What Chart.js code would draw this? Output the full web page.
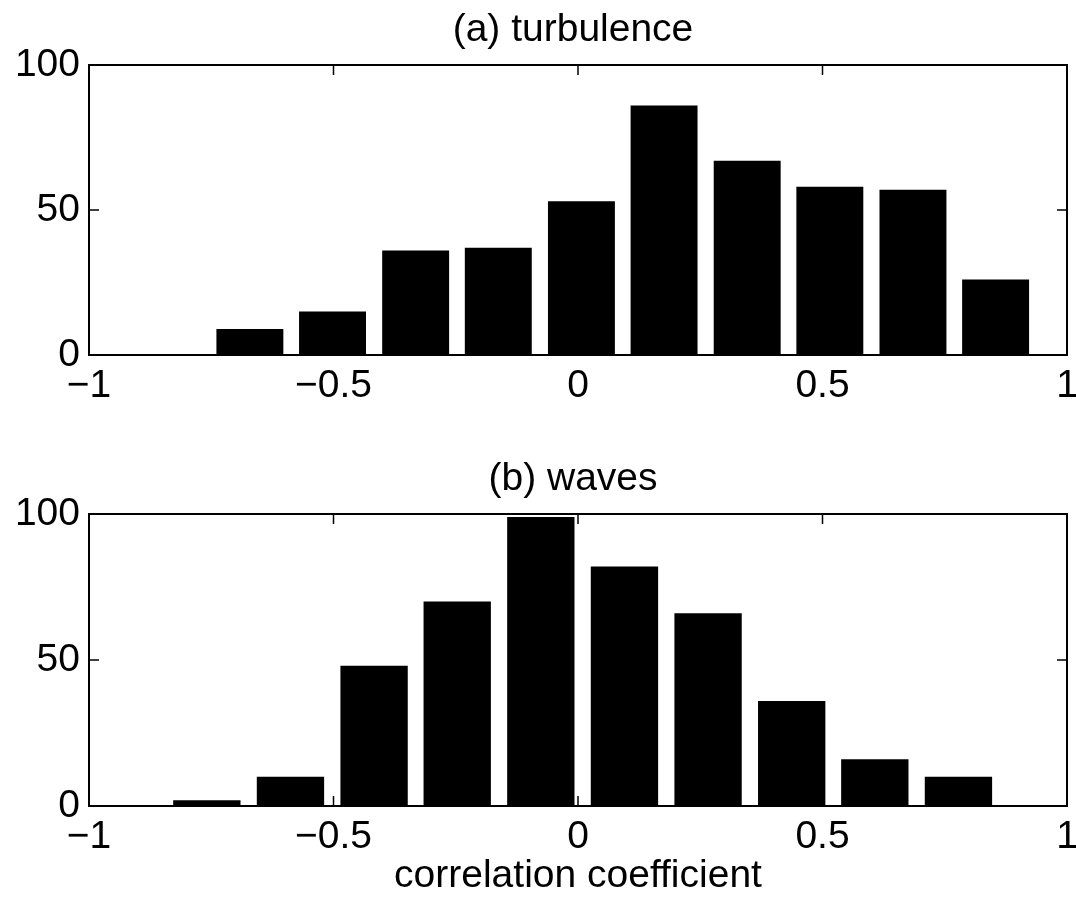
<!DOCTYPE html>
<html>
<head>
<meta charset="utf-8">
<script src="https://cdn.jsdelivr.net/npm/chart.js@4.4.0/dist/chart.umd.min.js"></script>
<style>
  html, body { margin: 0; padding: 0; background: #fff; }
  #wrap { position: relative; width: 1076px; height: 900px; }
  canvas { position: absolute; left: 0; }
  #c_top { top: 0; }
  #c_bot { top: 449px; }
</style>
</head>
<body>
<div id="wrap">
  <canvas id="c_top" width="1076" height="449"></canvas>
  <canvas id="c_bot" width="1076" height="451"></canvas>
</div>
<script>
// histogram bin centres and counts
var turb_centers = [-0.671, -0.502, -0.332, -0.163, 0.007, 0.176, 0.346, 0.515, 0.685, 0.854];
var turb_counts  = [9, 15, 36, 37, 53, 86, 67, 58, 57, 26];

var wave_centers = [-0.759, -0.588, -0.417, -0.247, -0.076, 0.095, 0.266, 0.437, 0.607, 0.778];
var wave_counts  = [2, 10, 48, 70, 99, 82, 66, 36, 16, 10];

var x_ticks = [-1, -0.5, 0, 0.5, 1];
var y_ticks = [0, 50, 100];

var FONT = '"Liberation Sans", Arial, Helvetica, sans-serif';
var FSIZE = 39;

function minus_fmt(v) {
    if (v < 0) return '\u2212' + Math.abs(v);
    return String(v);
}

function to_points(xs, ys) {
    var pts = [];
    for (let i = 0; i < xs.length; i++) {
        pts.push({x: xs[i], y: ys[i]});
    }
    return pts;
}

// matlab style box: inward ticks on all four sides + frame + title on top
var matlab_box = {
    id: 'matlab_box',
    beforeDatasetsDraw: function (chart) {
        var ctx = chart.ctx;
        var a = chart.chartArea;
        var sx = chart.scales.x, sy = chart.scales.y;
        var tl = 10;
        ctx.save();
        ctx.strokeStyle = '#000';
        ctx.lineWidth = 1.5;
        ctx.beginPath();
        for (let v of x_ticks) {
            var px = sx.getPixelForValue(v);
            ctx.moveTo(px, a.bottom); ctx.lineTo(px, a.bottom - tl);
            ctx.moveTo(px, a.top); ctx.lineTo(px, a.top + tl);
        }
        for (let v of y_ticks) {
            var py = sy.getPixelForValue(v);
            ctx.moveTo(a.left, py); ctx.lineTo(a.left + tl, py);
            ctx.moveTo(a.right, py); ctx.lineTo(a.right - tl, py);
        }
        ctx.stroke();
        ctx.restore();
    },
    afterDatasetsDraw: function (chart) {
        var ctx = chart.ctx;
        var a = chart.chartArea;
        ctx.save();
        ctx.strokeStyle = '#000';
        ctx.lineWidth = 2;
        ctx.strokeRect(a.left, a.top, a.right - a.left, a.bottom - a.top);
        ctx.restore();
    },
    afterDraw: function (chart, args, opts) {
        var ctx = chart.ctx;
        var a = chart.chartArea;
        ctx.save();
        ctx.fillStyle = '#000';
        ctx.font = FSIZE + 'px ' + FONT;
        ctx.textAlign = 'center';
        ctx.textBaseline = 'alphabetic';
        ctx.fillText(opts.text, (a.left + a.right) / 2 - 5, 41);
        ctx.restore();
    }
};

function make_hist(canvas_id, title, centers, counts, x_title) {
    var ctx = document.getElementById(canvas_id);
    var axis_h = 94;
    return new Chart(ctx, {
        type: 'bar',
        data: {
            datasets: [{
                label: title,
                data: to_points(centers, counts),
                backgroundColor: '#000',
                borderColor: '#000',
                borderWidth: 0,
                barPercentage: 0.81,
                categoryPercentage: 1.0
            }]
        },
        options: {
            responsive: false,
            animation: false,
            devicePixelRatio: 1,
            layout: {
                padding: {top: 65, right: 9, bottom: 0, left: 0}
            },
            plugins: {
                legend: {display: false},
                tooltip: {enabled: false},
                matlab_box: {text: title}
            },
            scales: {
                x: {
                    type: 'linear',
                    min: -1,
                    max: 1,
                    offset: false,
                    grid: {display: false, drawTicks: false},
                    border: {display: false},
                    afterBuildTicks: function (s) {
                        s.ticks = x_ticks.map(v => ({value: v}));
                    },
                    afterFit: function (s) {
                        s.height = axis_h;
                        // let the "1" label hang past the box like matlab does
                        s.paddingRight = 0;
                        s.paddingLeft = 0;
                    },
                    ticks: {
                        autoSkip: false,
                        maxRotation: 0,
                        padding: 8,
                        color: '#000',
                        font: {family: FONT, size: FSIZE},
                        callback: function (v) { return minus_fmt(v); }
                    },
                    title: {
                        display: !!x_title,
                        text: x_title || '',
                        color: '#000',
                        font: {family: FONT, size: FSIZE},
                        padding: {top: 0, bottom: 0}
                    }
                },
                y: {
                    min: 0,
                    max: 100,
                    grid: {display: false, drawTicks: false},
                    border: {display: false},
                    afterBuildTicks: function (s) {
                        s.ticks = y_ticks.map(v => ({value: v}));
                    },
                    afterFit: function (s) { s.width = 89; },
                    ticks: {
                        padding: 9,
                        color: '#000',
                        font: {family: FONT, size: FSIZE}
                    }
                }
            }
        },
        plugins: [matlab_box]
    });
}

make_hist('c_top', '(a) turbulence', turb_centers, turb_counts, null);
make_hist('c_bot', '(b) waves', wave_centers, wave_counts, 'correlation coefficient');
</script>
</body>
</html>
